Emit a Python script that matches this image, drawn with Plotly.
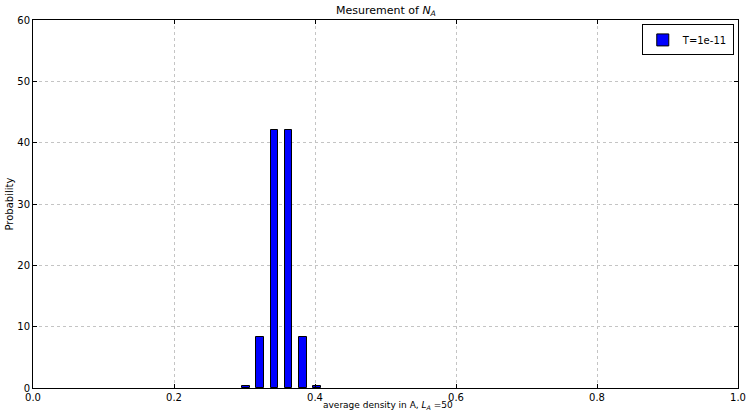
import plotly.graph_objects as go

# Data
bin_density = [0.30, 0.32, 0.34, 0.36, 0.38, 0.40]
probability = [0.35, 8.3, 42.0, 42.0, 8.3, 0.35]
series_name = "T=1e-11"
x_ticks = [0.0, 0.2, 0.4, 0.6, 0.8, 1.0]
y_ticks = [0, 10, 20, 30, 40, 50, 60]

FONT = "DejaVu Sans"

fig = go.Figure()
fig.add_trace(go.Bar(
    x=bin_density, y=probability, name=series_name,
    width=0.011, offset=-0.003,
    marker=dict(color="#0000ff", line=dict(color="#000000", width=1)),
    showlegend=True,
))

axis_common = dict(
    showline=True, linecolor="black", linewidth=1, mirror="ticks",
    ticks="inside", ticklen=4, tickcolor="black",
    showgrid=True, gridcolor="#c4c4c4", griddash="dot", gridwidth=1,
    zeroline=False, tickfont=dict(family=FONT, size=10, color="black"),
)

fig.update_layout(
    width=746, height=410,
    margin=dict(l=33, r=8, t=20, b=22, autoexpand=False),
    paper_bgcolor="white", plot_bgcolor="white",
    font=dict(family=FONT, color="black"),
    bargap=0,
    xaxis=dict(range=[0, 1], tickvals=x_ticks,
               ticktext=[f"{v:.1f}" for v in x_ticks], **axis_common),
    yaxis=dict(range=[0, 60], tickvals=y_ticks,
               ticktext=[str(v) for v in y_ticks], **axis_common),
    legend=dict(x=0.994, y=0.988, xanchor="right", yanchor="top",
                bordercolor="black", borderwidth=1, bgcolor="white",
                font=dict(family=FONT, size=10), itemwidth=30),
    annotations=[
        dict(text="Mesurement of <i>N</i><sub><i>A</i></sub>", xref="paper", yref="paper",
             x=0.5, y=1, xanchor="center", yanchor="bottom", yshift=0,
             showarrow=False, font=dict(family=FONT, size=11)),
        dict(text="average density in A, <i>L</i><sub><i>A</i></sub> =50", xref="paper", yref="paper",
             x=0.503, y=0, xanchor="center", yanchor="bottom", yshift=-25,
             showarrow=False, font=dict(family=FONT, size=9)),
        dict(text="Probability", xref="paper", yref="paper", textangle=-90,
             x=0, y=0.5, xanchor="right", yanchor="middle", xshift=-17,
             showarrow=False, font=dict(family=FONT, size=10)),
    ],
)

fig.write_html("out.html", config={"displayModeBar": False},
               post_script="document.body.style.margin='0px';document.body.style.padding='0px';")
